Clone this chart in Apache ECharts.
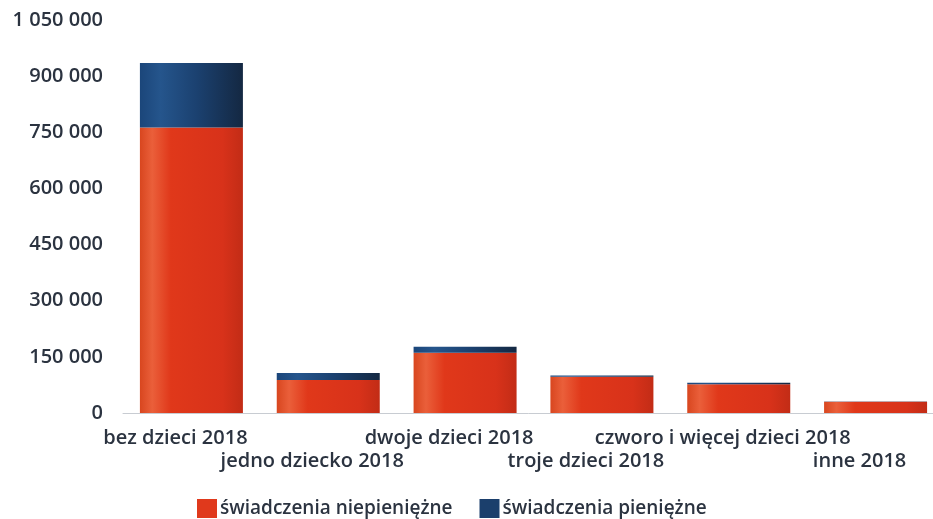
<!DOCTYPE html>
<html>
<head>
<meta charset="utf-8">
<script src="https://cdn.jsdelivr.net/npm/echarts@6/dist/echarts.min.js"></script>
<style>html,body{margin:0;padding:0;background:#fff}#c{width:933px;height:519px}</style>
</head>
<body>
<div id="c"></div>
<script>
var categories = ['bez dzieci 2018','jedno dziecko 2018','dwoje dzieci 2018','troje dzieci 2018','czworo i więcej dzieci 2018','inne 2018'];
var niepieniezne = [763000, 88000, 161000, 97000, 77000, 30000];
var pieniezne = [172000, 19000, 16000, 3000, 4000, 500];
var seriesNames = ['świadczenia niepieniężne','świadczenia pieniężne'];

var txt = '#2b3340';
var font = '"Open Sans", sans-serif';
function grad(stops){
  return new echarts.graphic.LinearGradient(0,0,1,0, stops.map(function(s){return {offset:s[0],color:s[1]};}));
}
var red = grad([[0,'#d8461f'],[0.12,'#ea5f3a'],[0.3,'#e0381a'],[0.8,'#d8321a'],[1,'#c22c16']]);
var blue = grad([[0,'#1b467a'],[0.2,'#25558c'],[0.55,'#1b4170'],[1,'#142842']]);

var chart = echarts.init(document.getElementById('c'));
chart.setOption({
  animation:false,
  grid:{left:123, top:20, width:821, height:393, outerBoundsMode:'none', containLabel:false},
  legend:{
    left:192, top:494, itemWidth:20, itemHeight:19, itemGap:27, icon:'rect',
    textStyle:{color:txt, fontSize:19, fontWeight:600, fontFamily:font, padding:[0,0,0,-2]},
    data:[{name:seriesNames[0], itemStyle:{color:'#e0391c'}},{name:seriesNames[1], itemStyle:{color:'#1b3f6c'}}]
  },
  xAxis:{
    type:'category', data:categories,
    axisLine:{lineStyle:{color:'#c8ccd2', width:1}},
    axisTick:{show:false},
    axisLabel:{
      interval:0, color:txt, fontSize:20, fontWeight:600, fontFamily:font, margin:14, lineHeight:23,
      padding:[0,32,0,0],
      formatter:function(v,i){ return i%2===1 ? '\n'+v : v; }
    }
  },
  yAxis:{
    type:'value', min:0, max:1050000, interval:150000,
    axisLine:{show:false}, axisTick:{show:false},
    splitLine:{show:false},
    axisLabel:{color:txt, fontSize:20, fontWeight:600, fontFamily:font, margin:20,
      formatter:function(v){ return String(v).replace(/\B(?=(\d{3})+(?!\d))/g,' '); }}
  },
  series:[
    {name:seriesNames[0], type:'bar', stack:'a', barWidth:103, data:niepieniezne, itemStyle:{color:red}},
    {name:seriesNames[1], type:'bar', stack:'a', barWidth:103, data:pieniezne, itemStyle:{color:blue}}
  ]
});
</script>
</body>
</html>
